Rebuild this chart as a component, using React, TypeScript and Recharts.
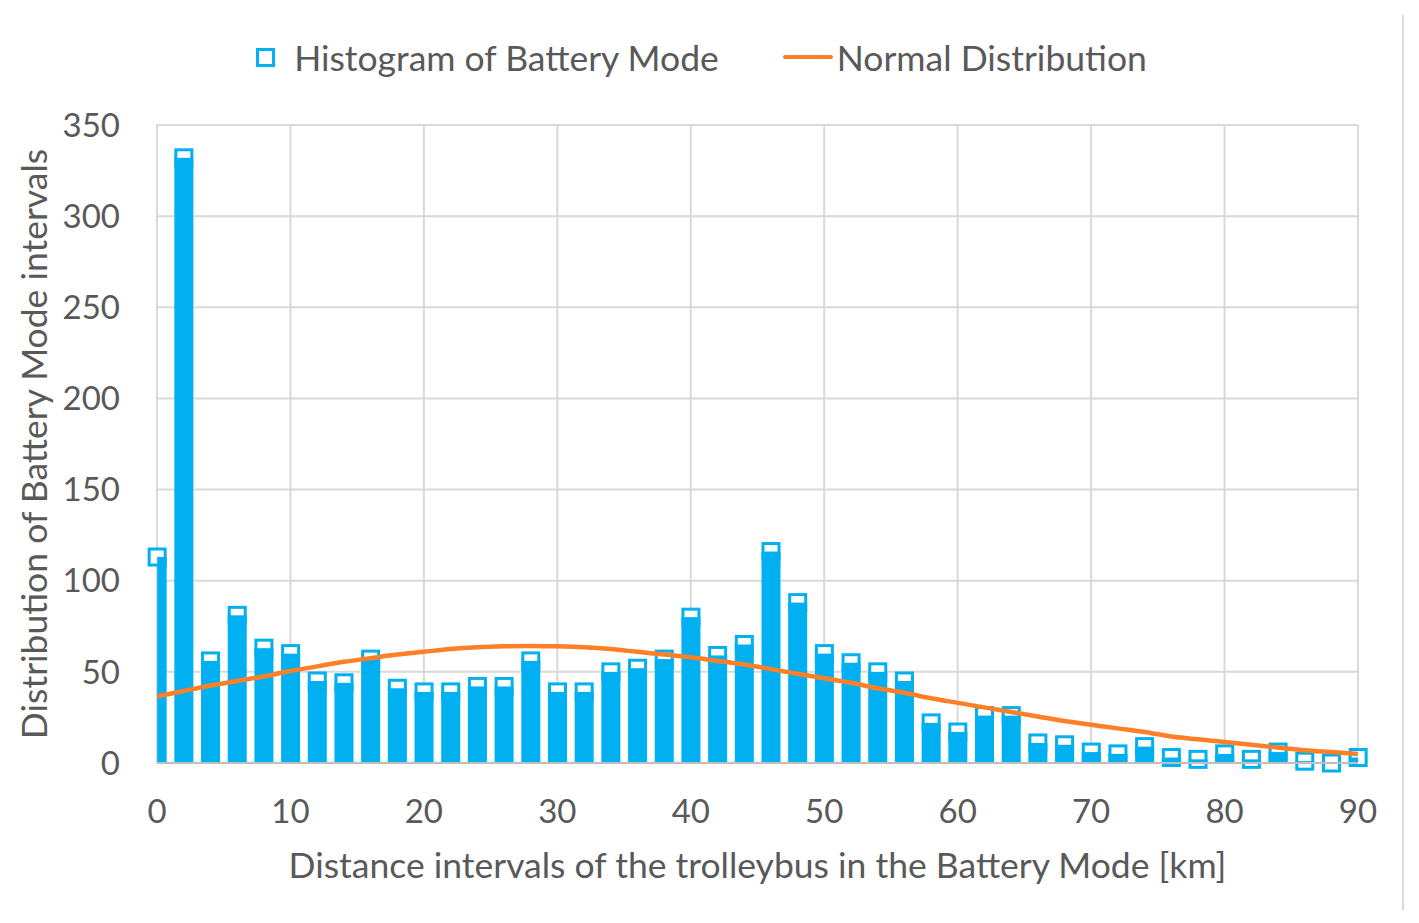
import React from 'react';
import {
  ComposedChart,
  Bar,
  Line,
  XAxis,
  YAxis,
  CartesianGrid,
} from 'recharts';

// distance interval start [km]
const distances = [
  0, 2, 4, 6, 8, 10, 12, 14, 16, 18, 20, 22, 24, 26, 28, 30, 32, 34, 36, 38, 40, 42, 44,
  46, 48, 50, 52, 54, 56, 58, 60, 62, 64, 66, 68, 70, 72, 74, 76, 78, 80, 82, 84, 86, 88, 90,
];

// histogram counts
const histogram = [
  113, 332, 56, 81, 63, 60, 45, 44, 57, 41, 39, 39, 42, 42, 56, 39, 39, 50, 52, 57, 80, 59, 65,
  116, 88, 60, 55, 50, 45, 22, 17, 26, 26, 11, 10, 6, 5, 9, 3, 2, 5, 2, 6, 1, 0, 3,
];

// fitted normal curve, read at the same points
const normal = [
  36.5, 39.5, 42.5, 45, 47.5, 50.5, 53, 55.5, 57.5, 59.5, 61, 62.5, 63.5, 64, 64.2, 64, 63.5,
  62.5, 61, 59.5, 58, 56, 54, 51.5, 49, 46.5, 44, 41, 38.5, 35.5, 33, 30.5, 28, 25.5, 23, 21,
  19, 17, 14.5, 13, 11.5, 10, 8.5, 7, 6, 5,
];

const xTicks = [0, 10, 20, 30, 40, 50, 60, 70, 80, 90];
const yTicks = [0, 50, 100, 150, 200, 250, 300, 350];

const X_MIN = 0;
const X_MAX = 90;

const BLUE = '#00B0F0';
const ORANGE = '#FF7F27';
const TEXT = '#595959';
const GRID = '#D9D9D9';
const FONT = 'Lato, "Open Sans", sans-serif';
const TITLE_SIZE = 35.5;

const data = distances.map((km, i) => ({
  km,
  count: histogram[i],
  normal: normal[i],
}));

// bar + square marker centred on the value; bar is painted over the marker's lower half
function HistBar(props: any) {
  const { x, y, width, height, payload } = props;
  if (x == null || y == null) return null;
  const cx = x + width / 2;
  let left = x;
  let w = width;
  if (payload.km <= X_MIN) {
    left = cx;
    w = width / 2;
  }
  if (payload.km >= X_MAX) {
    w = width / 2;
  }
  const m = 16;
  return (
    <g>
      <rect x={cx - m / 2} y={y - m / 2} width={m} height={m} fill="#fff" stroke={BLUE} strokeWidth={3} />
      {height > 0 && <rect x={left} y={y} width={w} height={height} fill={BLUE} />}
    </g>
  );
}

function LegendRow() {
  return (
    <div
      style={{
        position: 'absolute',
        top: 34,
        left: 0,
        width: 1403,
        height: 46,
        display: 'flex',
        justifyContent: 'center',
        alignItems: 'center',
        gap: 64,
        fontFamily: FONT,
        fontSize: TITLE_SIZE,
        color: TEXT,
      }}
    >
      <div style={{ display: 'flex', alignItems: 'center' }}>
        <svg width={19} height={19} style={{ marginRight: 19 }}>
          <rect x={1.5} y={1.5} width={16} height={16} fill="#fff" stroke={BLUE} strokeWidth={3} />
        </svg>
        <span>Histogram of Battery Mode</span>
      </div>
      <div style={{ display: 'flex', alignItems: 'center' }}>
        <svg width={50} height={8} style={{ marginRight: 4 }}>
          <line x1={2} y1={4} x2={48} y2={4} stroke={ORANGE} strokeWidth={4} strokeLinecap="round" />
        </svg>
        <span>Normal Distribution</span>
      </div>
    </div>
  );
}

export default function App() {
  return (
    <div
      style={{
        position: 'absolute',
        top: 0,
        left: 0,
        width: 1419,
        height: 923,
        background: '#fff',
        overflow: 'hidden',
      }}
    >
      <ComposedChart
        width={1419}
        height={923}
        data={data}
        margin={{ top: 125, right: 61, bottom: 60, left: 0 }}
        style={{ fontFamily: FONT }}
      >
        <CartesianGrid stroke={GRID} strokeWidth={2} />
        <XAxis
          type="number"
          dataKey="km"
          domain={[X_MIN, X_MAX]}
          ticks={xTicks}
          interval={0}
          height={100}
          tickLine={false}
          tickSize={0}
          tickMargin={37}
          axisLine={{ stroke: '#BFBFBF', strokeWidth: 2 }}
          tick={{ fill: TEXT, fontSize: 33 }}
          label={{
            content: ({ viewBox }: any) => (
              <text
                x={viewBox.x + viewBox.width / 2}
                y={viewBox.y + 115}
                textAnchor="middle"
                fill={TEXT}
                fontSize={TITLE_SIZE}
                fontFamily={FONT}
              >
                Distance intervals of the trolleybus in the Battery Mode [km]
              </text>
            ),
          }}
        />
        <YAxis
          type="number"
          domain={[0, 350]}
          ticks={yTicks}
          interval={0}
          width={157}
          tickLine={false}
          tickSize={0}
          tickMargin={37}
          axisLine={false}
          tick={{ fill: TEXT, fontSize: 33 }}
          label={{
            content: ({ viewBox }: any) => {
              const cy = viewBox.y + viewBox.height / 2;
              return (
                <text
                  x={47}
                  y={cy}
                  transform={`rotate(-90 47 ${cy})`}
                  textAnchor="middle"
                  fill={TEXT}
                  fontSize={TITLE_SIZE}
                  fontFamily={FONT}
                >
                  Distribution of Battery Mode intervals
                </text>
              );
            },
          }}
        />
        <Bar dataKey="count" barSize={19} shape={HistBar} isAnimationActive={false} />
        <Line
          dataKey="normal"
          type="monotone"
          stroke={ORANGE}
          strokeWidth={4.5}
          dot={false}
          activeDot={false}
          isAnimationActive={false}
        />
      </ComposedChart>
      <LegendRow />
      <div
        style={{
          position: 'absolute',
          left: 1402,
          top: 15,
          width: 2,
          height: 895,
          background: GRID,
        }}
      />
    </div>
  );
}
